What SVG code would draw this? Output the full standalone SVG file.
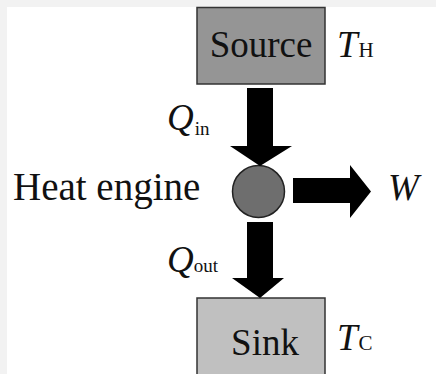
<svg xmlns="http://www.w3.org/2000/svg" width="436" height="374" viewBox="0 0 436 374">
<style>
.t{font-family:"Liberation Serif","Times New Roman",serif;fill:#111}
.i{font-style:italic}
.box{stroke:#333;stroke-width:1.5}
.arr{fill:#000}
</style>
<rect x="0" y="0" width="436" height="374" fill="#f2f2f2"/>
<rect x="7" y="7" width="429" height="367" fill="#fff"/>
<g id="source">
<rect class="box" x="197" y="7.5" width="128" height="76.5" fill="#959595"/>
<text class="t" x="261" y="57" font-size="37" text-anchor="middle">Source</text>
<text class="t" x="337" y="57"><tspan class="i" font-size="37">T</tspan><tspan font-size="21" dx="1">H</tspan></text>
</g>
<g id="engine">
<circle cx="258.5" cy="191.5" r="26" fill="#6e6e6e" stroke="#222" stroke-width="1.5"/>
<text class="t" x="13" y="200" font-size="39">Heat engine</text>
</g>
<g id="work">
<text class="t i" x="388" y="200" font-size="37">W</text>
</g>
<g id="sink">
<rect class="box" x="197" y="298" width="128" height="80" fill="#c0c0c0"/>
<text class="t" x="265" y="355" font-size="37" text-anchor="middle">Sink</text>
<text class="t" x="337" y="350"><tspan class="i" font-size="37">T</tspan><tspan font-size="21" dx="1">C</tspan></text>
</g>
<g id="connectors">
<polygon class="arr" points="247,88 273,88 273,146 292,146 260,166 230,146 247,146"/>
<text class="t" x="167" y="130"><tspan class="i" font-size="37">Q</tspan><tspan font-size="19" dx="1" dy="5">in</tspan></text>
<polygon class="arr" points="293,178 350,178 350,165 371,191.5 350,218 350,203 293,203"/>
<polygon class="arr" points="247,222 273,222 273,278 284,278 260,298 232,278 247,278"/>
<text class="t" x="167" y="272"><tspan class="i" font-size="37">Q</tspan><tspan font-size="19" dx="0" dy="0">out</tspan></text>
</g>
</svg>
